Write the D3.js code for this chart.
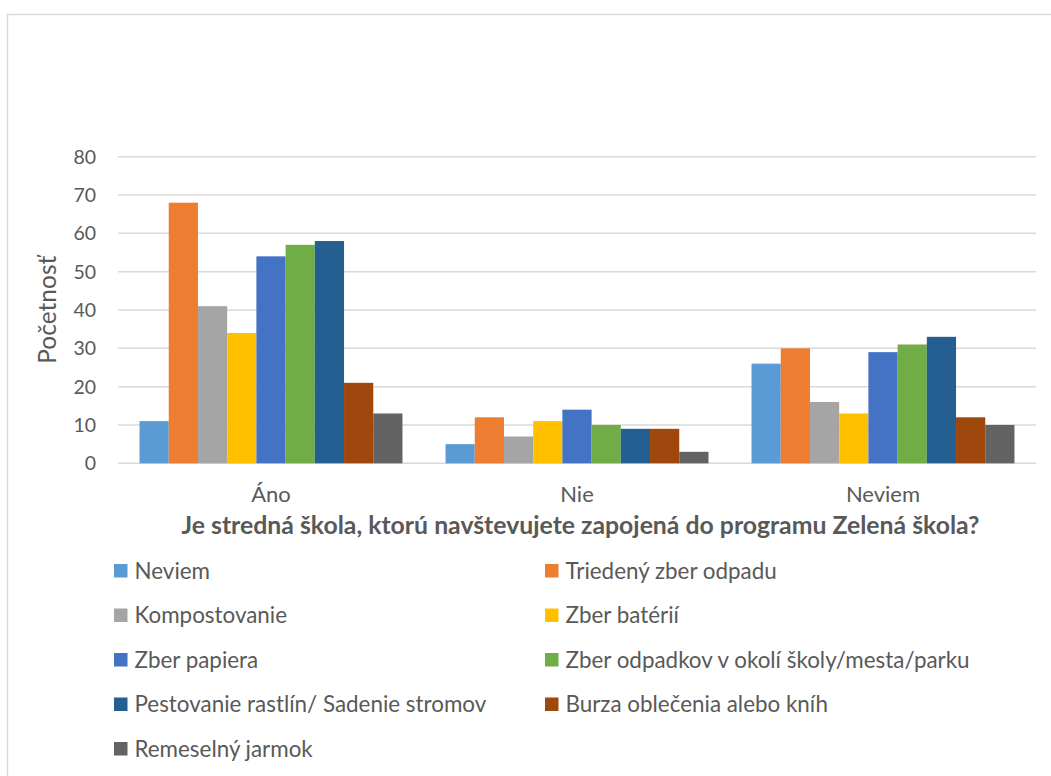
<!DOCTYPE html>
<html><head><meta charset="utf-8">
<script src="https://cdn.jsdelivr.net/npm/d3@7"></script>
<style>
html,body{margin:0;padding:0;background:#fff;}
text{font-family:Lato,"Open Sans",sans-serif;}
</style></head>
<body>
<svg id="chart" width="1051" height="776"></svg>
<script>
const categories = ["Áno", "Nie", "Neviem"];
const seriesNames = ["Neviem", "Triedený zber odpadu", "Kompostovanie", "Zber batérií", "Zber papiera",
  "Zber odpadkov v okolí školy/mesta/parku", "Pestovanie rastlín/ Sadenie stromov", "Burza oblečenia alebo kníh", "Remeselný jarmok"];
const seriesColors = ["#5B9BD5", "#ED7D31", "#A5A5A5", "#FFC000", "#4472C4", "#70AD47", "#255E91", "#9E480E", "#636363"];
const valuesAno    = [11, 68, 41, 34, 54, 57, 58, 21, 13];
const valuesNie    = [5, 12, 7, 11, 14, 10, 9, 9, 3];
const valuesNeviem = [26, 30, 16, 13, 29, 31, 33, 12, 10];
const yTicks = [0, 10, 20, 30, 40, 50, 60, 70, 80];
const yTitle = "Početnosť";
const xTitle = "Je stredná škola, ktorú navštevujete zapojená do programu Zelená škola?";

const valuesByCat = [valuesAno, valuesNie, valuesNeviem];
const svg = d3.select("#chart");

// outer frame
svg.append("rect").attr("x", 7.5).attr("y", 14.5).attr("width", 1100).attr("height", 800)
  .attr("fill", "none").attr("stroke", "#d9d9d9").attr("stroke-width", 1.5);

const plotLeft = 118, plotRight = 1036, plotTop = 156.7, plotBottom = 463.3;
const x0 = d3.scaleBand().domain(categories).range([plotLeft, plotRight]).paddingInner(0.1407).paddingOuter(0.07035);
const x1 = d3.scaleBand().domain(d3.range(seriesNames.length)).range([0, x0.bandwidth()]);
const y = d3.scaleLinear().domain([0, 80]).range([plotBottom, plotTop]);

// gridlines
svg.append("g").selectAll("line").data(yTicks).join("line")
  .attr("x1", plotLeft).attr("x2", plotRight)
  .attr("y1", d => y(d)).attr("y2", d => y(d))
  .attr("stroke", "#d9d9d9").attr("stroke-width", 1.5);

// y tick labels
svg.append("g").selectAll("text").data(yTicks).join("text")
  .attr("x", 96).attr("y", d => y(d)).attr("dy", "0.36em")
  .attr("text-anchor", "end").attr("fill", "#595959").attr("font-size", 19.5)
  .text(d => d);

// bars
const groups = svg.append("g").selectAll("g").data(categories).join("g")
  .attr("transform", c => `translate(${x0(c)},0)`);
groups.selectAll("rect").data((c, i) => valuesByCat[i].map((v, j) => ({v, j})))
  .join("rect")
  .attr("x", d => x1(d.j)).attr("width", x1.bandwidth())
  .attr("y", d => y(d.v)).attr("height", d => y(0) - y(d.v))
  .attr("fill", d => seriesColors[d.j]);

// x category labels
svg.append("g").selectAll("text").data(categories).join("text")
  .attr("x", c => x0(c) + x0.bandwidth() / 2).attr("y", 501.7)
  .attr("text-anchor", "middle").attr("fill", "#595959").attr("font-size", 22)
  .text(c => c);

// x title
svg.append("text").attr("x", 580.5).attr("y", 533.8)
  .attr("text-anchor", "middle").attr("fill", "#595959").attr("font-size", 24.8).attr("font-weight", "bold")
  .text(xTitle);

// y title
svg.append("text").attr("transform", "translate(55.5,309.7) rotate(-90)")
  .attr("text-anchor", "middle").attr("fill", "#595959").attr("font-size", 24.5)
  .text(yTitle);

// legend
const legendCols = [114, 545];
const legendRowY = [571, 615.5, 660, 704.5, 749];
const leg = svg.append("g").selectAll("g").data(seriesNames).join("g")
  .attr("transform", (d, i) => `translate(${legendCols[i % 2]},${legendRowY[Math.floor(i / 2)]})`);
leg.append("rect").attr("x", 0).attr("y", -7).attr("width", 13.5).attr("height", 13.5)
  .attr("fill", (d, i) => seriesColors[i]);
leg.append("text").attr("x", 20.5).attr("y", 0).attr("dy", "0.35em")
  .attr("fill", "#595959").attr("font-size", 22.4)
  .text(d => d);
</script>
</body></html>
